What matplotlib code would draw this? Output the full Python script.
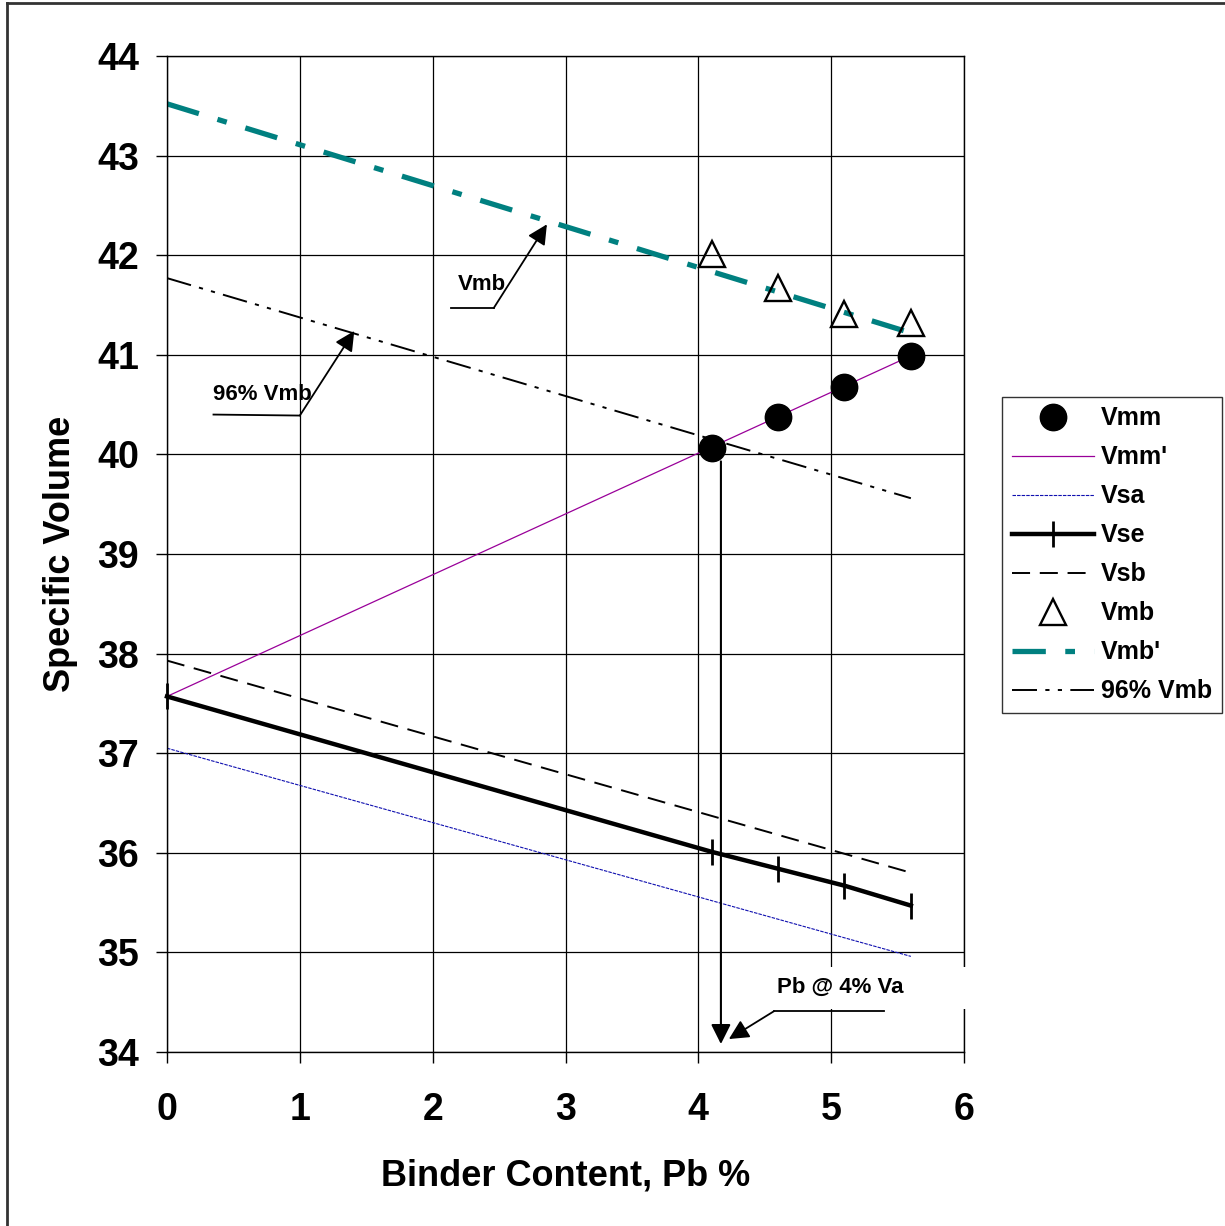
import matplotlib
matplotlib.use("Agg")
import matplotlib.pyplot as plt
from matplotlib.lines import Line2D
from matplotlib.patches import Rectangle

plt.rcParams['font.family'] = ['Liberation Sans', 'DejaVu Sans']
plt.rcParams['font.weight'] = 'bold'
plt.rcParams['lines.scale_dashes'] = False

# binder contents of the trial mixes
pb = [4.1, 4.6, 5.1, 5.6]
vmm = [40.06, 40.38, 40.68, 40.99]
vmb = [42.01, 41.67, 41.41, 41.32]
vse_pts = [36.01, 35.84, 35.67, 35.47]

# fitted lines (value at Pb = 0 and Pb = 5.6)
line_x = [0, 5.6]
vmm_line = [37.57, 40.99]
vsa_line = [37.05, 34.96]
vse_x = [0] + pb
vse_line = [37.57] + vse_pts
vsb_line = [37.93, 35.80]
vmb_line = [43.52, 41.22]
vmb96_line = [41.77, 39.56]

pb_design = 4.17

fig = plt.figure(figsize=(12.25, 12.26), dpi=100)
ax = fig.add_axes([167/1225, 1 - 1052/1226, (964-167)/1225, (1052-56)/1226])

ax.plot(pb, vmm, 'o', color='black', ms=19, zorder=5, label='Vmm')
ax.plot(line_x, vmm_line, color='#990099', lw=0.9, label="Vmm'")
ax.plot(line_x, vsa_line, color='#1010b0', lw=0.8, dashes=[2.5, 0.8], label='Vsa')
ax.plot(vse_x, vse_line, color='black', lw=3.2, marker='|', ms=19, mew=2,
        clip_on=False, label='Vse')
ax.plot(line_x, vsb_line, color='black', lw=1.4, dashes=[13, 7], label='Vsb')
ax.plot(pb, vmb, '^', mfc='none', mec='black', mew=1.7, ms=19, zorder=5, label='Vmb')
ax.plot(line_x, vmb_line, color='#008080', lw=3.8, dashes=[24, 14, 7, 14], label="Vmb'")
ax.plot(line_x, vmb96_line, color='black', lw=1.4, dashes=[18, 6, 3, 6, 3, 6],
        label='96% Vmb')

# vertical arrow down to the design binder content
ax.annotate('', xy=(pb_design, 34.08), xytext=(pb_design, 39.93),
            arrowprops=dict(arrowstyle='-|>', color='black', lw=1.5,
                            mutation_scale=30, shrinkA=0, shrinkB=0), zorder=4)

# white label box that sits over the grid and right frame
ax.add_patch(Rectangle((4.43, 34.43), 1.6, 0.42, facecolor='white',
                       edgecolor='none', zorder=2.6, clip_on=False))

arr = dict(arrowstyle='-|>', color='black', lw=1.3, mutation_scale=30,
           shrinkA=0, shrinkB=0)
# callouts
for txt, xy, elbow, end, tpos in [
        ('Vmb', (2.86, 42.31), (2.46, 41.47), (2.14, 41.47), (2.19, 41.6)),
        ('96% Vmb', (1.41, 41.24), (1.0, 40.39), (0.35, 40.4), (0.35, 40.5)),
        ('Pb @ 4% Va', (4.23, 34.13), (4.57, 34.41), (5.4, 34.41), (4.59, 34.54))]:
    ax.plot([end[0], elbow[0]], [end[1], elbow[1]], color='black', lw=1.3, zorder=3)
    ax.annotate('', xy=xy, xytext=elbow, arrowprops=arr, zorder=3)
    ax.text(tpos[0], tpos[1], txt, fontsize=16, ha='left', va='bottom', zorder=3)

ax.set_xlim(0, 6)
ax.set_ylim(34, 44)
ax.set_xticks(range(0, 7))
ax.set_yticks(range(34, 45))
ax.grid(True, color='black', lw=0.9)
ax.set_axisbelow(True)
for s in ax.spines.values():
    s.set_linewidth(1.0)
ax.tick_params(axis='both', labelsize=27, length=8, width=1, direction='out')
ax.tick_params(axis='x', pad=21)
ax.tick_params(axis='y', pad=12)
ax.set_xlabel('Binder Content, Pb %', fontsize=26, fontweight='bold', labelpad=22)
ax.set_ylabel('Specific Volume', fontsize=26, fontweight='bold', labelpad=14)

leg = ax.legend(loc='upper left', bbox_to_anchor=(1002/1225, 1 - 397/1226),
                bbox_transform=fig.transFigure, fontsize=18, frameon=True,
                fancybox=False, edgecolor='black', handlelength=3.3,
                handletextpad=0.28, labelspacing=0.6, borderpad=0.38,
                borderaxespad=0)
leg.get_frame().set_linewidth(1.0)

# outer frame of the chart area
fig.add_artist(Line2D([7/1225, 7/1225], [0, 1 - 3/1226], color='#333333', lw=2,
                      transform=fig.transFigure))
fig.add_artist(Line2D([7/1225, 1], [1 - 3/1226, 1 - 3/1226], color='#333333', lw=2,
                      transform=fig.transFigure))

fig.savefig('out.png', dpi=100)
